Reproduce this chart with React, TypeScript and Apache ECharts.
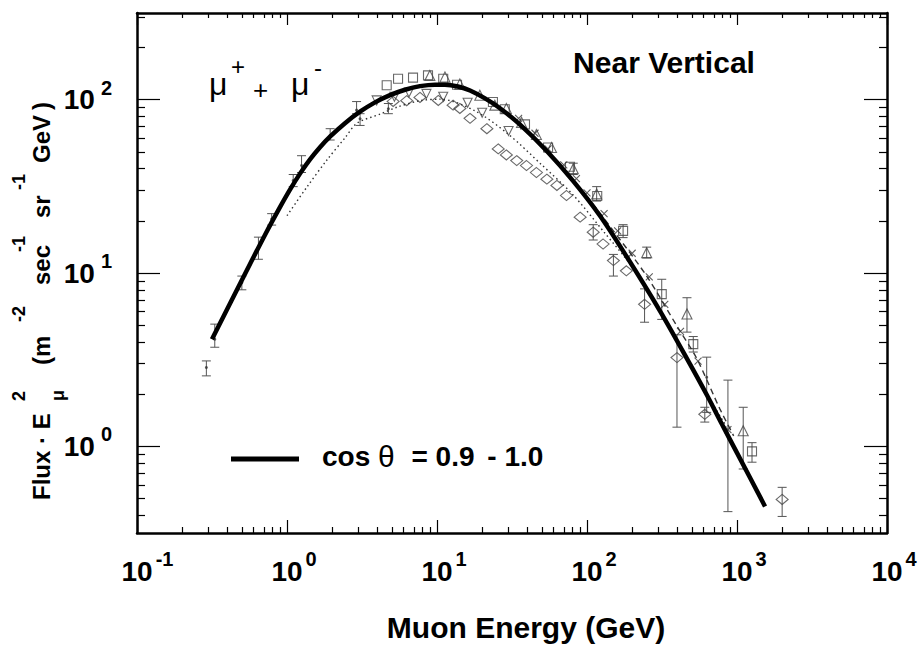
import React, { useEffect, useRef } from "react";
import * as echarts from "echarts";

const FONT = '"Liberation Sans", Arial, Helvetica, sans-serif';

// ---- axes (log10 space) ----
const X_DECADES = [-1, 0, 1, 2, 3, 4];
const Y_DECADES = [0, 1, 2];
const X_LOG_RANGE = [-1, 4];
const Y_LOG_RANGE = [-0.5, 2.5];
const X_MINOR_VALUES = [
  0.2, 0.3, 0.4, 0.5, 0.6, 0.7, 0.8, 0.9,
  2, 3, 4, 5, 6, 7, 8, 9,
  20, 30, 40, 50, 60, 70, 80, 90,
  200, 300, 400, 500, 600, 700, 800, 900,
  2000, 3000, 4000, 5000, 6000, 7000, 8000, 9000,
];
const Y_MINOR_VALUES = [
  0.4, 0.5, 0.6, 0.7, 0.8, 0.9,
  2, 3, 4, 5, 6, 7, 8, 9,
  20, 30, 40, 50, 60, 70, 80, 90,
  200, 300,
];

// ---- curves ----
const SOLID_E = [0.316, 0.417, 0.567, 0.713, 0.898, 1.047, 1.221, 1.424, 1.66, 1.935, 2.436, 3.067, 3.861, 4.861, 6.12, 7.7, 9.7, 11.3, 13.8, 16.6, 20.9, 26.3, 35.8, 54.1, 80.7, 122, 179, 307, 486, 631, 794, 1000, 1538];
const SOLID_F = [4.15, 6.67, 11.27, 16.58, 23.98, 30.27, 37.44, 45.24, 53.2, 61.2, 73.2, 85.2, 96.5, 106.2, 114.1, 119.7, 122.1, 122.1, 119.2, 113.0, 101.7, 89.3, 71.7, 50.4, 34.0, 21.4, 12.9, 6.03, 2.98, 1.97, 1.34, 0.917, 0.45];

const DOTTED_E = [1.0, 1.36, 1.85, 2.44, 2.93, 4.17, 5.41, 7.7, 10.5, 18, 30, 50, 80, 130, 200, 350, 600, 850];
const DOTTED_F = [21.4, 31.4, 45.0, 60.3, 73.2, 82.5, 90.5, 98.7, 100.7, 86, 63, 42, 28.5, 17.2, 10.8, 4.9, 2.15, 1.3];

const DASHED_E = [60, 100, 150, 250, 400, 540, 770, 950];
const DASHED_F = [46, 27.5, 17.5, 9.6, 4.9, 3.2, 1.64, 1.15];

// ---- data points ----
const DOT_E = [0.29, 0.33, 0.5, 0.645, 0.79, 1.1, 1.25, 1.94, 2.91, 3.07, 4.74, 628];
const DOT_F = [2.85, 4.15, 8.8, 14.1, 20.5, 34.2, 41.7, 62, 87, 77.6, 88.7, 2.5];
const DOT_LO = [2.55, 3.73, 8.0, 12.0, 18.9, 31.5, 38, 58.5, 83, 71, 83, 1.57];
const DOT_HI = [3.11, 5.07, 9.6, 16.1, 22.0, 37, 47.5, 68, 97.5, 83, 95, 3.27];

const SQUARE_E = [4.62, 5.5, 6.92, 8.71, 11, 13.6, 23.6, 28.3, 38.6, 55, 77, 117, 174, 315, 511, 1259];
const SQUARE_F = [121, 132, 134, 138, 132, 122, 97, 88, 72, 53, 41, 27.8, 17.5, 7.55, 3.89, 0.935];

const TRI_E = [8.96, 11.3, 14.2, 19.3, 24.3, 29, 36.6, 46, 58, 81, 116, 250, 464, 1100];
const TRI_F = [138, 135, 123, 106, 93, 89, 74, 63, 53, 40, 28.6, 13.1, 5.8, 1.23];

const INV_E = [3.96, 5.2, 6.5, 8.5, 11, 16, 20, 30];
const INV_F = [99, 104, 110, 108, 104, 96, 84, 66];

const DIA_E = [5.1, 6.28, 7.7, 10.2, 12.8, 14.2, 16.6, 21.5, 25.6, 29, 34, 39.5, 46, 54, 63, 73, 90, 110, 128, 150, 183, 242, 398, 610, 2000];
const DIA_F = [97.7, 98.6, 103, 99, 93, 89, 78, 68, 52, 48, 44.5, 41.7, 38, 34.8, 32, 28, 21, 17.2, 14.7, 11.8, 10.3, 6.6, 3.25, 1.53, 0.494];

const CROSS_E = [35, 45, 55, 70, 85, 100, 130, 160, 200, 260, 330, 420, 550, 870];
const CROSS_F = [78, 64, 52, 42, 35, 29, 22, 17.5, 13, 9.5, 6.6, 4.6, 3.1, 1.25];

const ERR_E = [110, 150, 242, 398, 610, 2000, 116, 81, 250, 464, 1100, 174, 315, 511, 1259, 870];
const ERR_LO = [15.5, 9.6, 5.2, 1.29, 1.38, 0.394, 26, 37, 12.2, 4.56, 0.74, 16, 5.4, 3.5, 0.81, 0.42];
const ERR_HI = [19, 12.8, 8.1, 4.4, 1.68, 0.58, 31.5, 43, 14.1, 7.2, 1.68, 19, 9.2, 4.3, 1.05, 2.41];

const LEGEND_NAME = "cos θ = 0.9 - 1.0";

const lg = (v: number) => Math.log10(v);
const pts = (E: number[], F: number[]) => E.map((e, i) => [lg(e), lg(F[i])]);
const errs = (E: number[], L: number[], H: number[]) => E.map((e, i) => [lg(e), lg(L[i]), lg(H[i])]);

const MARK = "#444";

const errRender = (_params: any, api: any) => {
  const x = api.value(0);
  const a = api.coord([x, api.value(1)]);
  const b = api.coord([x, api.value(2)]);
  const cap = 4.5;
  const st = { stroke: "#555", lineWidth: 1 };
  return {
    type: "group",
    children: [
      { type: "line", shape: { x1: a[0], y1: a[1], x2: b[0], y2: b[1] }, style: st },
      { type: "line", shape: { x1: a[0] - cap, y1: a[1], x2: a[0] + cap, y2: a[1] }, style: st },
      { type: "line", shape: { x1: b[0] - cap, y1: b[1], x2: b[0] + cap, y2: b[1] }, style: st },
    ],
  };
};

function buildOption(): any {
  const boldText = (size: number) => ({ fontSize: size, fontWeight: "bold", fontFamily: FONT, color: "#000" });
  const frame = { show: true, onZero: false, lineStyle: { color: "#000", width: 2.5 } };
  const noLine = { show: false, onZero: false };
  const tickStyle = { color: "#000", width: 1.2 };
  const base = { type: "value", splitLine: { show: false }, axisPointer: { show: false } };

  const xLabelRich = {
    bp: { ...boldText(28), lineHeight: 30, padding: [0, 0, 0, 14] },
    bn: { ...boldText(28), lineHeight: 30, padding: [0, 0, 0, 21] },
    s: { ...boldText(20), lineHeight: 20, padding: [0, 0, 24, 3] },
  };
  const yLabelRich = {
    b: { ...boldText(28), lineHeight: 30 },
    s: { ...boldText(20), lineHeight: 20, padding: [0, 0, 24, 6] },
  };

  const xAxis = [
    {
      ...base, position: "bottom", min: X_LOG_RANGE[0], max: X_LOG_RANGE[1], axisLine: frame,
      axisTick: { show: true, inside: true, length: 13, customValues: X_DECADES, lineStyle: tickStyle },
      axisLabel: {
        show: true, margin: 23, customValues: X_DECADES,
        formatter: (v: number) => {
          const e = Math.round(v);
          return `{${e < 0 ? "bn" : "bp"}|10}{s|${e}}`;
        },
        rich: xLabelRich,
      },
    },
    {
      ...base, position: "bottom", min: X_LOG_RANGE[0], max: X_LOG_RANGE[1], axisLine: noLine,
      axisTick: { show: true, inside: true, length: 6, customValues: X_MINOR_VALUES.map(lg), lineStyle: tickStyle },
      axisLabel: { show: false },
    },
    {
      ...base, position: "top", min: X_LOG_RANGE[0], max: X_LOG_RANGE[1], axisLine: frame,
      axisTick: { show: true, inside: true, length: 12, customValues: X_DECADES, lineStyle: tickStyle },
      axisLabel: { show: false },
    },
    {
      ...base, position: "top", min: X_LOG_RANGE[0], max: X_LOG_RANGE[1], axisLine: noLine,
      axisTick: { show: true, inside: true, length: 5, customValues: X_MINOR_VALUES.map(lg), lineStyle: tickStyle },
      axisLabel: { show: false },
    },
  ];

  const yAxis = [
    {
      ...base, position: "left", min: Y_LOG_RANGE[0], max: Y_LOG_RANGE[1], axisLine: frame,
      axisTick: { show: true, inside: true, length: 23, customValues: Y_DECADES, lineStyle: tickStyle },
      axisLabel: {
        show: true, margin: 25, customValues: Y_DECADES,
        formatter: (v: number) => `{b|10}{s|${Math.round(v)}}`,
        rich: yLabelRich,
      },
    },
    {
      ...base, position: "left", min: Y_LOG_RANGE[0], max: Y_LOG_RANGE[1], axisLine: noLine,
      axisTick: { show: true, inside: true, length: 8, customValues: Y_MINOR_VALUES.map(lg), lineStyle: tickStyle },
      axisLabel: { show: false },
    },
    {
      ...base, position: "right", min: Y_LOG_RANGE[0], max: Y_LOG_RANGE[1], axisLine: frame,
      axisTick: { show: true, inside: true, length: 23, customValues: Y_DECADES, lineStyle: tickStyle },
      axisLabel: { show: false },
    },
    {
      ...base, position: "right", min: Y_LOG_RANGE[0], max: Y_LOG_RANGE[1], axisLine: noLine,
      axisTick: { show: true, inside: true, length: 8, customValues: Y_MINOR_VALUES.map(lg), lineStyle: tickStyle },
      axisLabel: { show: false },
    },
  ];

  const hollow = (extra: any = {}) => ({
    color: "rgba(255,255,255,0)",
    borderColor: MARK,
    borderWidth: 1.1,
    ...extra,
  });

  const series: any[] = [
    {
      type: "custom", name: "err-dots", renderItem: errRender, data: errs(DOT_E, DOT_LO, DOT_HI),
      encode: { x: 0, y: [1, 2] }, silent: true, z: 2,
    },
    {
      type: "custom", name: "err-marks", renderItem: errRender, data: errs(ERR_E, ERR_LO, ERR_HI),
      encode: { x: 0, y: [1, 2] }, silent: true, z: 2,
    },
    { type: "scatter", name: "dots", data: pts(DOT_E, DOT_F), symbol: "circle", symbolSize: 3, itemStyle: { color: "#333" }, silent: true, z: 3 },
    { type: "scatter", name: "squares", data: pts(SQUARE_E, SQUARE_F), symbol: "rect", symbolSize: 9, itemStyle: hollow(), silent: true, z: 3 },
    { type: "scatter", name: "triangles", data: pts(TRI_E, TRI_F), symbol: "triangle", symbolSize: 10, itemStyle: hollow(), silent: true, z: 3 },
    { type: "scatter", name: "inverted", data: pts(INV_E, INV_F), symbol: "triangle", symbolRotate: 180, symbolSize: 9, itemStyle: hollow(), silent: true, z: 3 },
    { type: "scatter", name: "diamonds", data: pts(DIA_E, DIA_F), symbol: "diamond", symbolSize: [12, 10], itemStyle: hollow(), silent: true, z: 3 },
    {
      type: "scatter", name: "crosses", data: pts(CROSS_E, CROSS_F), symbol: "path://M0 0L10 10M10 0L0 10",
      symbolSize: 7, itemStyle: hollow({ borderColor: "#333" }), silent: true, z: 3,
    },
    {
      type: "line", name: "dotted", data: pts(DOTTED_E, DOTTED_F), symbol: "none", smooth: 0.3,
      lineStyle: { color: "#333", width: 1.4, type: [1.5, 3] }, silent: true, z: 4,
    },
    {
      type: "line", name: "dashed", data: pts(DASHED_E, DASHED_F), symbol: "none", smooth: 0.3,
      lineStyle: { color: "#333", width: 1.4, type: [6, 4] }, silent: true, z: 4,
    },
    {
      type: "line", name: LEGEND_NAME, data: pts(SOLID_E, SOLID_F), symbol: "none", smooth: 0.3,
      lineStyle: { color: "#000", width: 4.5 }, itemStyle: { color: "#000" }, silent: true, z: 6,
    },
  ];

  const yTitleMain = (u: number, text: string) => ({
    type: "text", x: u, y: 41,
    style: { text, font: `bold 24px ${FONT}`, fill: "#000", align: "left", verticalAlign: "middle" },
  });
  const yTitleSup = (u: number, text: string, v = 19) => ({
    type: "text", x: u, y: v,
    style: { text, font: `bold 18px ${FONT}`, fill: "#000", align: "left", verticalAlign: "middle" },
  });

  const graphic = [
    {
      type: "text", x: 664, y: 62.5,
      style: { text: "Near Vertical", font: `bold 30px ${FONT}`, fill: "#000", align: "center", verticalAlign: "middle" },
    },
    {
      type: "text", x: 526, y: 627,
      style: { text: "Muon Energy (GeV)", font: `bold 30px ${FONT}`, fill: "#000", align: "center", verticalAlign: "middle" },
    },
    { type: "text", x: 209, y: 84, style: { text: "μ", font: `32px ${FONT}`, fill: "#000", align: "left", verticalAlign: "middle" } },
    { type: "text", x: 231, y: 66, style: { text: "+", font: `24px ${FONT}`, fill: "#000", align: "left", verticalAlign: "middle" } },
    { type: "text", x: 253, y: 90, style: { text: "+", font: `26px ${FONT}`, fill: "#000", align: "left", verticalAlign: "middle" } },
    { type: "text", x: 291, y: 84, style: { text: "μ", font: `32px ${FONT}`, fill: "#000", align: "left", verticalAlign: "middle" } },
    { type: "text", x: 314, y: 67, style: { text: "-", font: `24px ${FONT}`, fill: "#000", align: "left", verticalAlign: "middle" } },
    {
      type: "group", x: 0, y: 508, rotation: Math.PI / 2,
      children: [
        yTitleMain(8, "Flux · E"),
        yTitleSup(107, "2"),
        yTitleSup(107, "μ", 58),
        yTitleMain(143, "(m"),
        yTitleSup(186, "-2"),
        yTitleMain(223, "sec"),
        yTitleSup(256, "-1"),
        yTitleMain(290, "sr"),
        yTitleSup(318, "-1"),
        yTitleMain(345, "GeV"),
        yTitleMain(398, ")"),
      ],
    },
  ];

  return {
    animation: false,
    backgroundColor: "#fff",
    textStyle: { fontFamily: FONT },
    grid: { left: 137, right: 36, top: 13, bottom: 113, containLabel: false, outerBoundsMode: "none" },
    legend: {
      data: [{ name: LEGEND_NAME, icon: "rect" }],
      left: 231, top: 441, padding: 0,
      itemWidth: 68, itemHeight: 5,
      selectedMode: false,
      formatter: () => "{c0|cos }{t|θ}{c1| = }{c|0.9}{c3| - }{c|1.0}",
      textStyle: {
        ...boldText(28),
        rich: {
          c0: { ...boldText(28), lineHeight: 30, padding: [0, 0, 6, 18] },
          t: { fontSize: 30, fontFamily: FONT, fontWeight: "normal", color: "#000", lineHeight: 30, padding: [0, 0, 6, 0] },
          c1: { ...boldText(28), lineHeight: 30, padding: [0, 0, 6, 9] },
          c3: { ...boldText(28), lineHeight: 30, padding: [0, 0, 6, 5] },
          c: { ...boldText(28), lineHeight: 30, padding: [0, 0, 6, 0] },
        },
      },
    },
    xAxis,
    yAxis,
    series,
    graphic,
  };
}

export default function App() {
  const ref = useRef<HTMLDivElement>(null);
  useEffect(() => {
    if (!ref.current) return;
    const chart = echarts.init(ref.current, null, { renderer: "svg" });
    chart.setOption(buildOption());
    return () => chart.dispose();
  }, []);
  return (
    <div
      ref={ref}
      style={{ position: "fixed", left: 0, top: 0, width: 923, height: 646, background: "#fff" }}
    />
  );
}
